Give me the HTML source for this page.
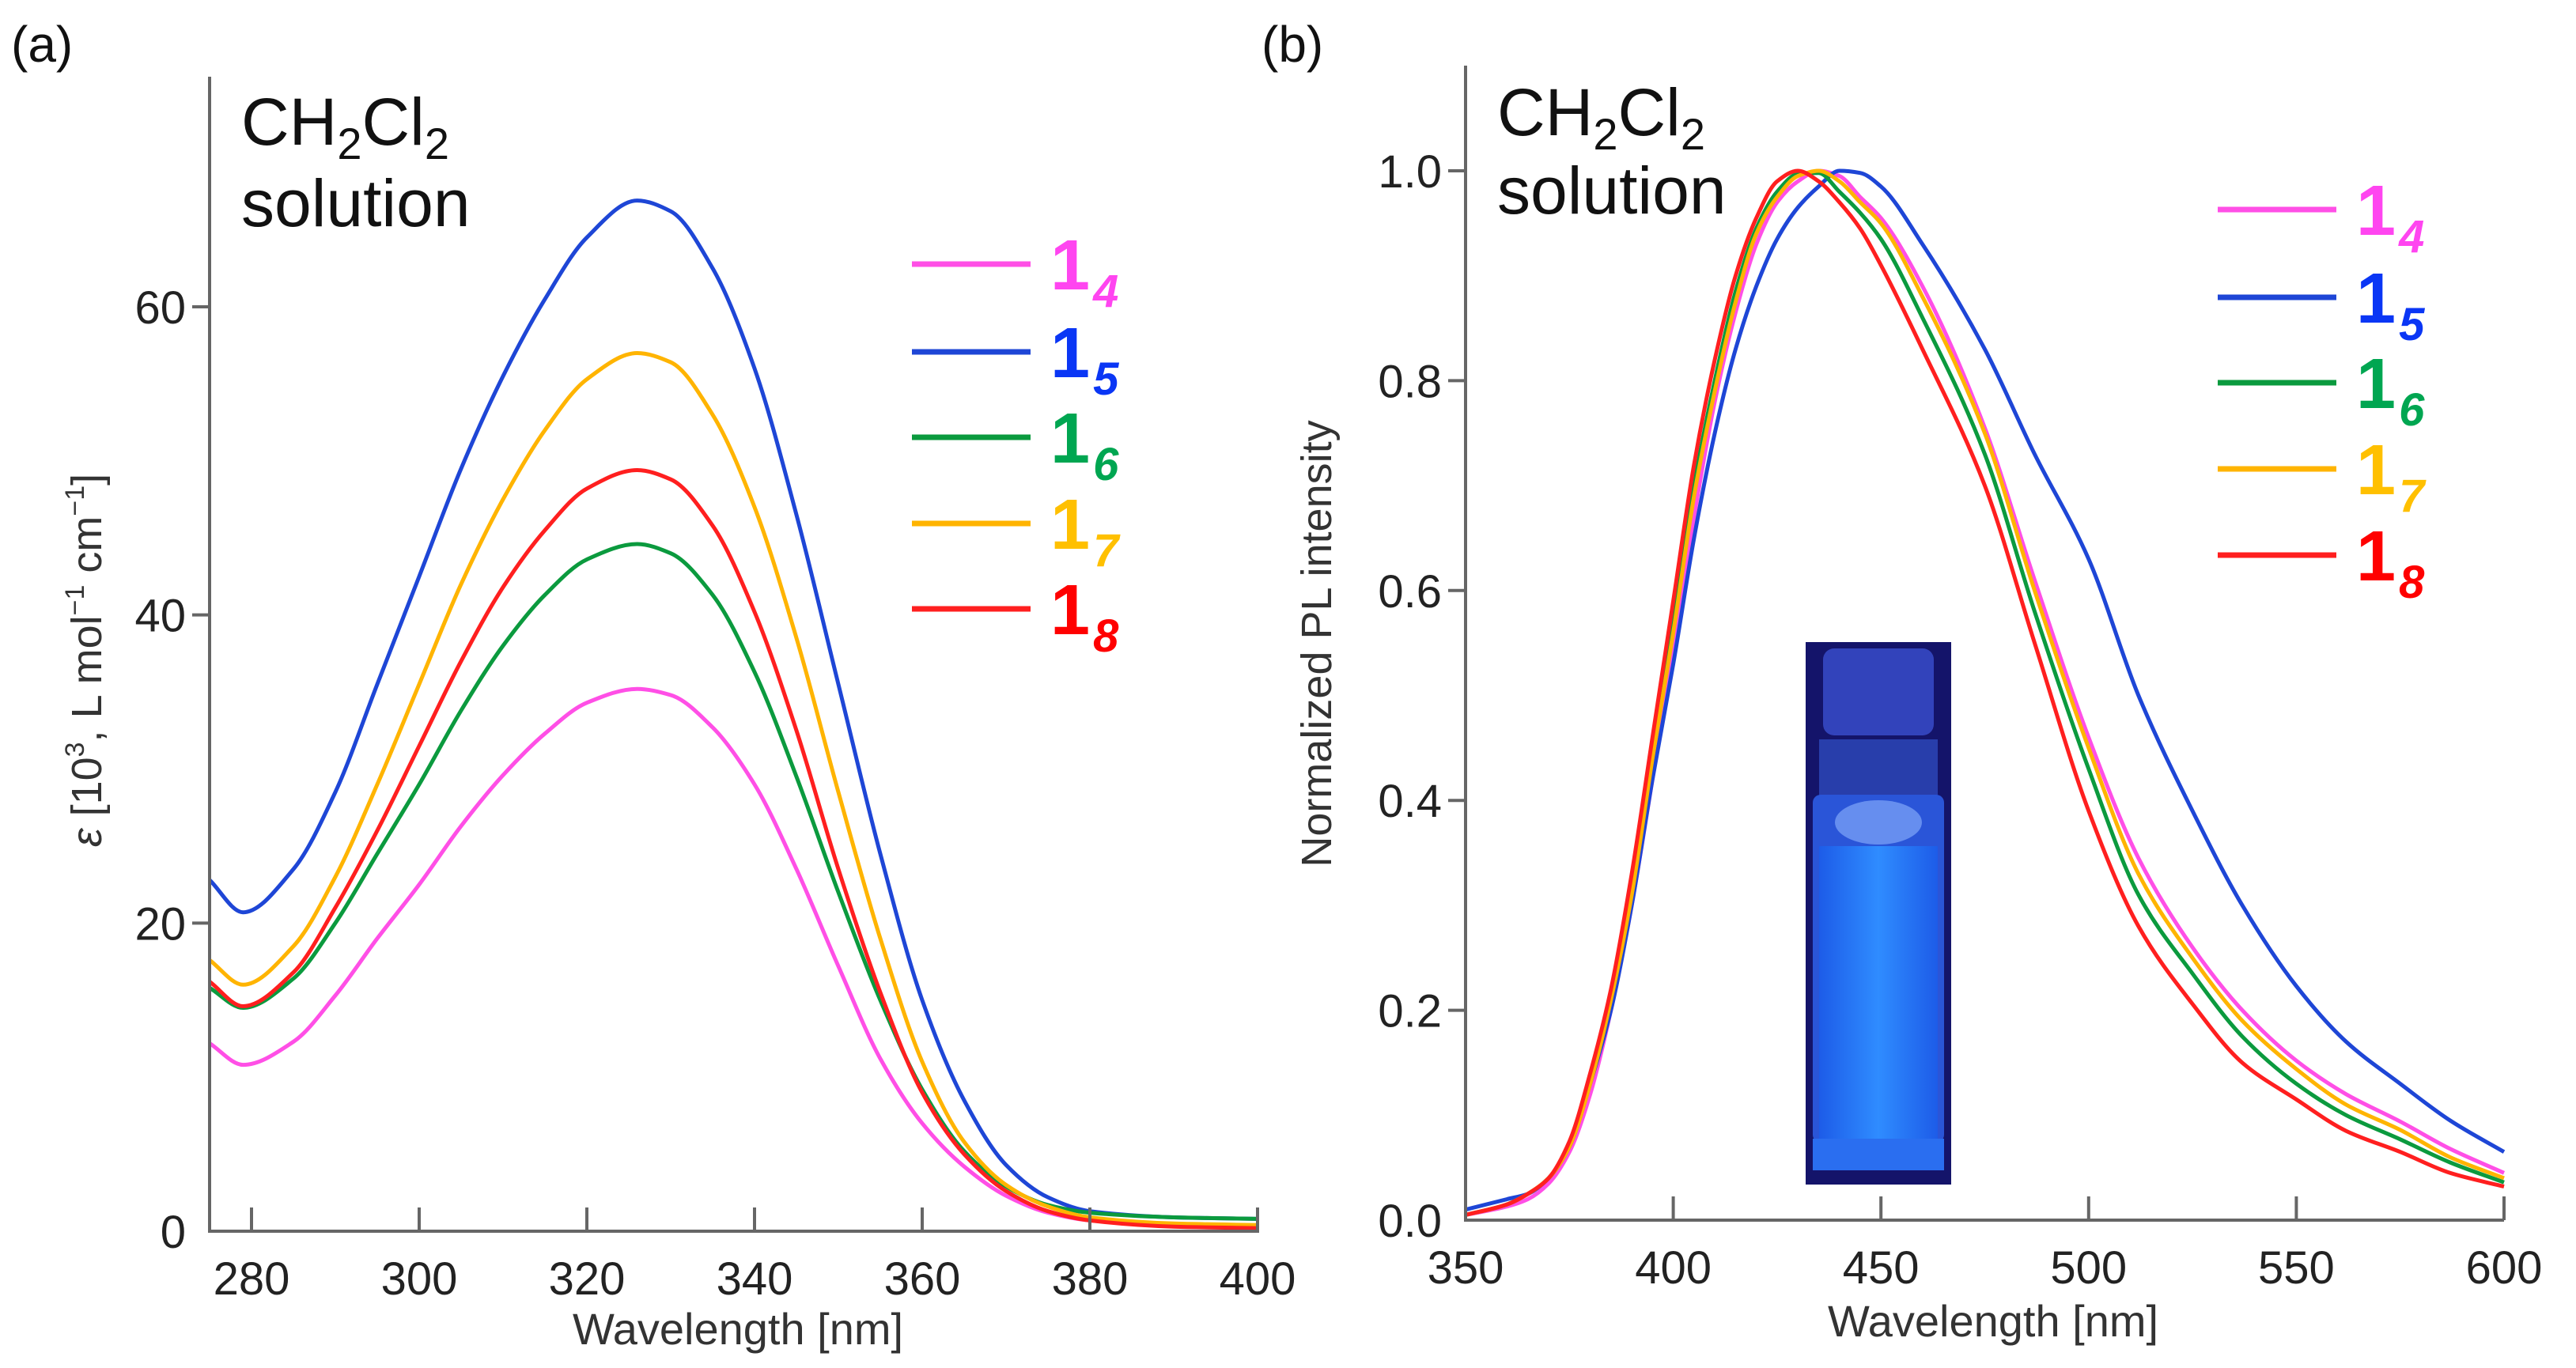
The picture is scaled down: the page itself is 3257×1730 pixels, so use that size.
<!DOCTYPE html>
<html><head><meta charset="utf-8"><style>
html,body{margin:0;padding:0;background:#fff}
svg{display:block;font-family:"Liberation Sans",Arial,sans-serif}
</style></head><body>
<svg id="fig" width="3257" height="1730" viewBox="0 0 3257 1730" xmlns="http://www.w3.org/2000/svg">
<g id="pa"></g>
<g id="pb"></g>
</svg>
<script>
// ---- Panel (a) data: absorption, epsilon [10^3 L mol-1 cm-1] ----
const absWl = [275,279,285,290,295,300,305,310,315,320,326,330,335,340,345,350,355,360,365,370,375,380,390,400];
const abs14 = [12.2,10.8,12.3,15.3,19,22.5,26.3,29.6,32.3,34.3,35.2,34.8,32.7,29,23.5,17.2,11.2,7,4.2,2.3,1.2,0.7,0.4,0.3];
const abs15 = [22.8,20.7,23.5,28.5,35.5,42.5,49.5,55.5,60.5,64.5,66.9,66.2,62.5,56,46.5,35.5,24.5,15,8.5,4.3,2.2,1.3,0.9,0.8];
const abs16 = [15.8,14.5,16.4,20,24.5,29,33.8,38,41.3,43.6,44.6,44,41.3,36.3,29.5,22,15,9.2,5.2,2.9,1.7,1.2,0.9,0.8];
const abs17 = [17.6,16.0,18.5,23,29,35.5,42,47.5,52,55.3,57,56.4,53,47,38.5,28.5,19,11,5.8,3,1.6,0.9,0.5,0.4];
const abs18 = [16.2,14.6,16.8,21,26,31.5,37,41.8,45.5,48.2,49.4,48.8,45.8,40.2,32.5,23.5,15.5,9,5,2.6,1.3,0.7,0.3,0.2];
const absXTicks = [280,300,320,340,360,380,400];
const absYTicks = [0,20,40,60];
// ---- Panel (b) data: normalized PL ----
const plWl = [350,360,365,370,375,380,385,390,395,400,405,410,415,420,425,430,435,440,445,450,460,475,487,500,512,525,537,550,562,575,587,600];
const pl14 = [0.005,0.013,0.02,0.035,0.065,0.12,0.2,0.3,0.42,0.54,0.67,0.78,0.865,0.93,0.97,0.99,1.0,0.995,0.975,0.955,0.89,0.755,0.61,0.46,0.345,0.26,0.2,0.152,0.12,0.094,0.068,0.045];
const pl15 = [0.01,0.02,0.025,0.04,0.07,0.13,0.2,0.3,0.42,0.53,0.65,0.75,0.83,0.89,0.935,0.965,0.985,1.0,0.998,0.985,0.93,0.83,0.73,0.63,0.5,0.39,0.3,0.223,0.17,0.13,0.095,0.065];
const pl16 = [0.005,0.015,0.025,0.04,0.072,0.135,0.215,0.32,0.45,0.57,0.7,0.8,0.885,0.945,0.98,0.997,0.998,0.98,0.96,0.935,0.86,0.73,0.58,0.43,0.31,0.235,0.175,0.13,0.1,0.077,0.055,0.036];
const pl17 = [0.005,0.015,0.025,0.04,0.07,0.13,0.21,0.31,0.44,0.56,0.69,0.79,0.875,0.94,0.975,0.995,1.0,0.99,0.97,0.95,0.88,0.75,0.6,0.45,0.33,0.25,0.19,0.144,0.11,0.086,0.06,0.04];
const pl18 = [0.005,0.015,0.025,0.04,0.075,0.14,0.22,0.33,0.46,0.59,0.72,0.82,0.9,0.955,0.99,1.0,0.99,0.97,0.945,0.91,0.83,0.7,0.55,0.39,0.28,0.206,0.15,0.115,0.085,0.065,0.045,0.032];
const plXTicks = [350,400,450,500,550,600];
const plYTicks = [0,0.2,0.4,0.6,0.8,1.0];
const seriesNames = ["4","5","6","7","8"];

const NS="http://www.w3.org/2000/svg";
const lineCols=["#ff4fe6","#1e46d6","#0b9a3e","#ffb400","#ff1f1f"];
const textCols=["#ff45f0","#0a36f5","#00a651","#ffc000","#ff0000"];
function mk(tag,parent,attrs){const e=document.createElementNS(NS,tag);for(const k in attrs)e.setAttribute(k,attrs[k]);parent.appendChild(e);return e;}
// monotone cubic (Fritsch-Carlson) path on pixel coords
function pathD(xs,ys){const n=xs.length,d=[],m=new Array(n);
 for(let i=0;i<n-1;i++)d.push((ys[i+1]-ys[i])/(xs[i+1]-xs[i]));
 m[0]=d[0];m[n-1]=d[n-2];
 for(let i=1;i<n-1;i++){if(d[i-1]*d[i]<=0)m[i]=0;else{const h0=xs[i]-xs[i-1],h1=xs[i+1]-xs[i];const w1=2*h1+h0,w2=h1+2*h0;m[i]=(w1+w2)/(w1/d[i-1]+w2/d[i]);}}
 let s="M"+xs[0].toFixed(1)+","+ys[0].toFixed(1);
 for(let i=0;i<n-1;i++){const h=(xs[i+1]-xs[i])/3;
  s+=" C"+(xs[i]+h).toFixed(1)+","+(ys[i]+m[i]*h).toFixed(1)+" "+(xs[i+1]-h).toFixed(1)+","+(ys[i+1]-m[i+1]*h).toFixed(1)+" "+xs[i+1].toFixed(1)+","+ys[i+1].toFixed(1);}
 return s;}

function panel(g,cfg){
 const sx=v=>cfg.x0+(v-cfg.xmin)/(cfg.xmax-cfg.xmin)*(cfg.x1-cfg.x0);
 const sy=v=>cfg.y0-(v-cfg.ymin)/(cfg.ymax-cfg.ymin)*(cfg.y0-cfg.y1);
 cfg.series.forEach((s,i)=>{
  const p=mk("path",g,{d:pathD(cfg.wl.map(sx),s.map(sy)),fill:"none",stroke:lineCols[i],"stroke-width":5,"stroke-linejoin":"round"});
  
  
 });
 const ax=mk("path",g,{d:`M${cfg.x0},${cfg.ytop} L${cfg.x0},${cfg.y0} L${cfg.x1},${cfg.y0}`+(cfg.rightTick?` L${cfg.x1},${cfg.y0-30}`:""),fill:"none",stroke:"#666","stroke-width":4});
 
 
 cfg.xt.forEach(t=>{const x=sx(t);
  const tk=mk("line",g,{x1:x,x2:x,y1:cfg.y0,y2:cfg.y0-30,stroke:"#666","stroke-width":4});
  
  
  const tl=mk("text",g,{x:x,y:cfg.y0+80,"font-size":58,"text-anchor":"middle",fill:"#222"});tl.textContent=t;
  
  });
 cfg.yt.forEach(t=>{const y=sy(t);
  if(t!==cfg.ymin){const tk=mk("line",g,{x1:cfg.x0-22,x2:cfg.x0,y1:y,y2:y,stroke:"#666","stroke-width":4});
  
  }
  const tl=mk("text",g,{x:cfg.x0-30,y:y+21,"font-size":58,"text-anchor":"end",fill:"#222"});tl.textContent=cfg.fmt(t);
  
  });
 cfg.series.forEach((s,i)=>{const y=cfg.legY[i];
  const ll=mk("line",g,{x1:cfg.legX,x2:cfg.legX+150,y1:y,y2:y,stroke:lineCols[i],"stroke-width":7});
  
  
  const t=mk("text",g,{x:cfg.legX+175,y:y+32,"font-size":90,"font-weight":"bold",fill:textCols[i]});
  
  
  t.appendChild(document.createTextNode("1"));
  const sub=mk("tspan",t,{"font-size":58,"font-style":"italic",dy:22,dx:4});sub.textContent=seriesNames[i];});
}
panel(document.getElementById("pa"),{x0:265,x1:1590,y0:1557,y1:388,ytop:97,xmin:275,xmax:400,ymin:0,ymax:60,
 wl:absWl,series:[abs14,abs15,abs16,abs17,abs18],xt:absXTicks,yt:absYTicks,fmt:v=>v,legX:1153,legY:[334,445,553,662,770],rightTick:true});
panel(document.getElementById("pb"),{x0:1853,x1:3166,y0:1543,y1:216,ytop:83,xmin:350,xmax:600,ymin:0,ymax:1,
 wl:plWl,series:[pl14,pl15,pl16,pl17,pl18],xt:plXTicks,yt:plYTicks,fmt:v=>v.toFixed(1),legX:2804,legY:[265,376,484,593,702],rightTick:false});
</script>
<div style="position:absolute;left:0;top:0;width:3257px;height:1730px;pointer-events:none">
<svg width="3257" height="1730" style="position:absolute;left:0;top:0" xmlns="http://www.w3.org/2000/svg">
 <text x="14" y="78" font-size="64" fill="#111">(a)</text>
 <text x="1595" y="78" font-size="64" fill="#111">(b)</text>
 <text x="305" y="183" font-size="84" fill="#111">CH<tspan font-size="56" dy="18">2</tspan><tspan dy="-18">Cl</tspan><tspan font-size="56" dy="18">2</tspan></text>
 <text x="305" y="286" font-size="84" fill="#111">solution</text>
 <text x="1893" y="171" font-size="84" fill="#111">CH<tspan font-size="56" dy="18">2</tspan><tspan dy="-18">Cl</tspan><tspan font-size="56" dy="18">2</tspan></text>
 <text x="1893" y="270" font-size="84" fill="#111">solution</text>
 <text x="933" y="1700" font-size="56" text-anchor="middle" fill="#333">Wavelength [nm]</text>
 <text x="2520" y="1690" font-size="56" text-anchor="middle" fill="#333">Wavelength [nm]</text>
 <text transform="translate(128,835) rotate(-90)" font-size="54" text-anchor="middle" fill="#333"><tspan font-style="italic">ε</tspan> [10<tspan font-size="34" dy="-22">3</tspan><tspan dy="22">, L mol</tspan><tspan font-size="34" dy="-22">−1</tspan><tspan dy="22"> cm</tspan><tspan font-size="34" dy="-22">−1</tspan><tspan dy="22">]</tspan></text>
 <text transform="translate(1683,814) rotate(-90)" font-size="54" text-anchor="middle" fill="#333">Normalized PL intensity</text>
 <g>
  <defs>
   <linearGradient id="liq" x1="0" x2="1" y1="0" y2="0"><stop offset="0" stop-color="#1d5ce8"/><stop offset="0.5" stop-color="#2f8cff"/><stop offset="1" stop-color="#1d5ce8"/></linearGradient>
  </defs>
  <rect x="2283" y="812" width="184" height="686" fill="#14146a"/>
  <rect x="2305" y="820" width="140" height="110" rx="14" fill="#3a4fd0" opacity="0.8"/>
  <rect x="2300" y="935" width="150" height="80" fill="#3050c8" opacity="0.7"/>
  <rect x="2292" y="1005" width="166" height="440" rx="10" fill="#2a55d8"/>
  <rect x="2300" y="1070" width="150" height="370" fill="url(#liq)"/>
  <ellipse cx="2375" cy="1040" rx="55" ry="28" fill="#8fb4ff" opacity="0.6"/>
  <rect x="2292" y="1440" width="166" height="40" fill="#2a6ef0"/>
 </g>
</svg>
</div>
</body></html>
